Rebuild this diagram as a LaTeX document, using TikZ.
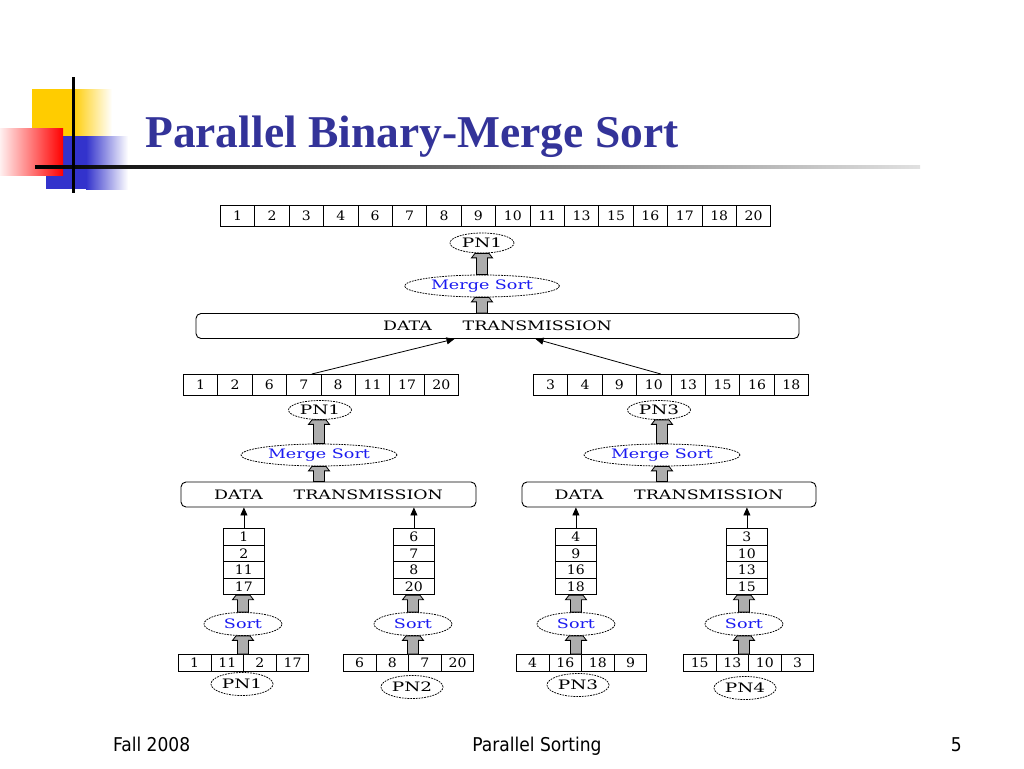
\documentclass[tikz,border=0pt]{standalone}
\usepackage{fontspec}
\usepackage{graphicx}
\setmainfont{Liberation Serif}
\newfontfamily\diagfont{DejaVu Serif}
\newfontfamily\footfont{DejaVu Sans Condensed}
\usetikzlibrary{shapes.geometric,arrows.meta,calc}
\definecolor{titleblue}{HTML}{333399}
\definecolor{sortblue}{HTML}{1A1AF0}
\definecolor{decoyellow}{HTML}{FFCC00}
\definecolor{decoblue}{HTML}{3333CC}
\definecolor{decored}{HTML}{FF0000}
\newcommand\dfont{\diagfont\fontsize{13}{15}\selectfont}
\newcommand\dg[1]{\scalebox{1.08}[1]{#1}}
\newcommand\pnl[1]{\scalebox{1.42}[1]{#1}}
\newcommand\msl[1]{\textcolor{sortblue}{\scalebox{1.35}[1]{#1}}}
\newcommand\dtl{\scalebox{1.34}[1]{DATA\hspace{23pt}TRANSMISSION}}
\newcommand\hrow[6]{%
  \foreach \v [count=\i from 0] in {#6} {
    \node[cell, minimum width=#4pt, minimum height=#5pt, anchor=north west] (#1-\i) at ({#2+\i*#4},#3) {\dg{\v}};
  }}
\newcommand\vcol[5]{%
  \foreach \v [count=\i from 0] in {#5} {
    \node[cell, minimum width=#4pt, minimum height=16.6pt, anchor=north west] (#1-\i) at (#2,{#3+\i*16.6}) {\dg{\v}};
  }}
\newcommand\barrow[2]{%
  \draw[blockarrow] let \p1=(#1), \p2=(#2) in
    (\x1-5.5,\y1) -- (\x1-5.5,\y2-4.5) -- (\x1-10.5,\y2-4.5) -- (\x1-7,\y2) --
    (\x1+7,\y2) -- (\x1+10.5,\y2-4.5) -- (\x1+5.5,\y2-4.5) -- (\x1+5.5,\y1) -- cycle;}
\tikzset{
  cell/.style={draw, line width=0.8pt, inner sep=0pt, font=\dfont},
  oval/.style={ellipse, draw, dash pattern=on 1.8pt off 1pt, line width=0.75pt, inner sep=0pt, font=\dfont},
  dtbox/.style={draw, rounded corners=5pt, line width=0.9pt, inner sep=0pt, font=\dfont},
  blockarrow/.style={draw=black, fill=black!32, line width=0.8pt},
  thinarrow/.style={line width=0.8pt, -{Triangle[length=8pt,width=7pt]}},
  foot/.style={font=\footfont\fontsize{19}{22}\selectfont, inner sep=0pt}
}
\begin{document}
\begin{tikzpicture}[x=1pt,y=-1pt]
\useasboundingbox[fill=white] (0,0) rectangle (1024,768);
% decoration
\fill[decoyellow] (32,89) rectangle (72,137);
\shade[left color=decoyellow, right color=white] (72,89) rectangle (112,137);
\fill[decoblue] (46,136) rectangle (86,189);
\shade[left color=decoblue, right color=white] (86,136) rectangle (128,189);
\shade[left color=decored!6, right color=decored] (0,128) rectangle (63,175);
\shade[left color=black, middle color=black!75, right color=black!12] (35,165.5) rectangle (920,168.5);
\fill[black] (71.5,77) rectangle (74.5,193);
% title
\node[anchor=base west, inner sep=0pt, text=titleblue, font=\fontsize{45.5}{54}\selectfont\bfseries] (title) at (145,147) {Parallel Binary-Merge Sort};
% top level
\hrow{top}{220}{205}{34.4}{21}{1,2,3,4,6,7,8,9,10,11,13,15,16,17,18,20}
\node[oval, minimum width=64pt, minimum height=20pt] (pn0) at (482,243) {\pnl{PN1}};
\node[oval, minimum width=155pt, minimum height=22pt] (ms0) at (482,286) {\msl{Merge Sort}};
\node[dtbox, minimum width=603pt, minimum height=25pt] (dt0) at (497.5,326) {\dtl};
\barrow{ms0.north}{pn0.south}
\barrow{ms0.south |- dt0.north}{ms0.south}
% level 2
\hrow{la}{183}{374}{34.4}{21}{1,2,6,7,8,11,17,20}
\hrow{ra}{533}{374}{34.4}{21}{3,4,9,10,13,15,16,18}
\draw[thinarrow] ([xshift=8pt]la-3.north) -- ([xshift=-43pt]dt0.south);
\draw[thinarrow] ([xshift=7pt]ra-3.north) -- ([xshift=38pt]dt0.south);
\node[oval, minimum width=63pt, minimum height=19pt] (pn1) at (320,410) {\pnl{PN1}};
\node[oval, minimum width=63pt, minimum height=19pt] (pn3) at (659,410) {\pnl{PN3}};
\node[oval, minimum width=156pt, minimum height=22pt] (ms1) at (319,455) {\msl{Merge Sort}};
\node[oval, minimum width=156pt, minimum height=22pt] (ms3) at (662,455) {\msl{Merge Sort}};
\node[dtbox, minimum width=295pt, minimum height=25pt] (dt1) at (328.5,494.5) {\dtl};
\node[dtbox, minimum width=294pt, minimum height=25pt] (dt2) at (669,494.5) {\dtl};
\barrow{ms1.north}{pn1.south}
\barrow{ms1.south |- dt1.north}{ms1.south}
\barrow{ms3.north}{pn3.south}
\barrow{ms3.south |- dt2.north}{ms3.south}
% columns
\vcol{c1}{223}{528}{41}{1,2,11,17}
\vcol{c2}{393}{528}{41}{6,7,8,20}
\vcol{c3}{555}{528}{41}{4,9,16,18}
\vcol{c4}{726}{528}{41}{3,10,13,15}
\draw[thinarrow] (c1-0.north) -- (c1-0.north |- dt1.south);
\draw[thinarrow] (c2-0.north) -- (c2-0.north |- dt1.south);
\draw[thinarrow] (c3-0.north) -- (c3-0.north |- dt2.south);
\draw[thinarrow] (c4-0.north) -- (c4-0.north |- dt2.south);
% sort ellipses
\node[oval, minimum width=78pt, minimum height=23pt] (s1) at (243,624) {\msl{Sort}};
\node[oval, minimum width=78pt, minimum height=23pt] (s2) at (413,624) {\msl{Sort}};
\node[oval, minimum width=78pt, minimum height=23pt] (s3) at (576,624) {\msl{Sort}};
\node[oval, minimum width=78pt, minimum height=23pt] (s4) at (744,624) {\msl{Sort}};
% bottom arrays
\hrow{b1}{178}{654}{32.6}{17}{1,11,2,17}
\hrow{b2}{343}{654}{32.6}{17}{6,8,7,20}
\hrow{b3}{516}{654}{32.6}{17}{4,16,18,9}
\hrow{b4}{683}{654}{32.6}{17}{15,13,10,3}
\barrow{s1.north}{c1-3.south}
\barrow{s2.north}{c2-3.south}
\barrow{s3.north}{c3-3.south}
\barrow{s4.north}{c4-3.south}
\barrow{s1.south |- b1-0.north}{s1.south}
\barrow{s2.south |- b2-0.north}{s2.south}
\barrow{s3.south |- b3-0.north}{s3.south}
\barrow{s4.south |- b4-0.north}{s4.south}
% bottom PN labels
\node[oval, minimum width=62pt, minimum height=23pt] (pb1) at (242,684) {\pnl{PN1}};
\node[oval, minimum width=62pt, minimum height=23pt] (pb2) at (412,687) {\pnl{PN2}};
\node[oval, minimum width=62pt, minimum height=23pt] (pb3) at (578,685) {\pnl{PN3}};
\node[oval, minimum width=62pt, minimum height=23pt] (pb4) at (745,688) {\pnl{PN4}};
% footer
\node[foot, anchor=base west] (f1) at (113,751) {Fall 2008};
\node[foot, anchor=base] (f2) at (537,751) {Parallel Sorting};
\node[foot, anchor=base east] (f3) at (962,751) {5};
\end{tikzpicture}
\end{document}
